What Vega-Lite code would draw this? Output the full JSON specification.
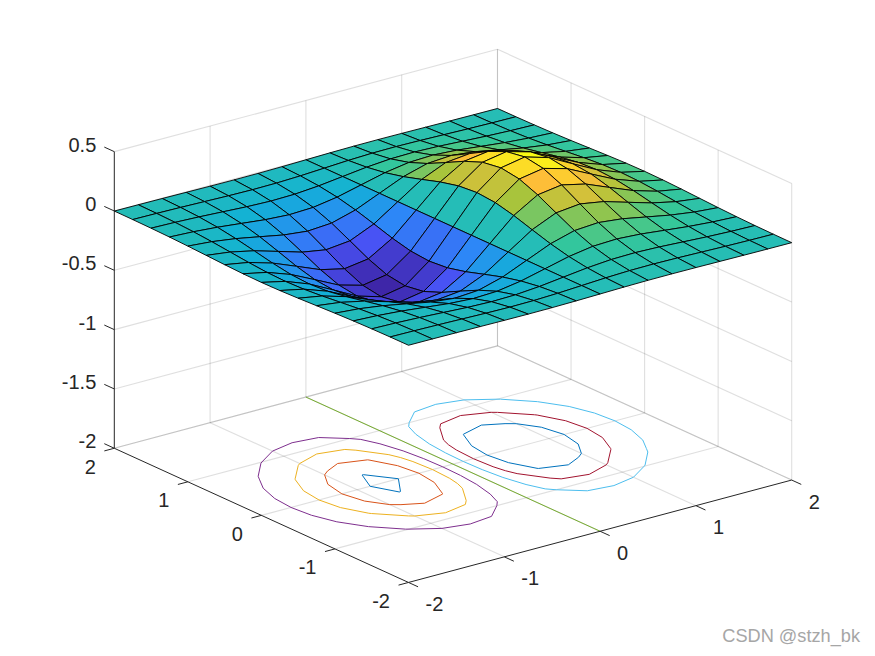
{"$schema":"https://vega.github.io/schema/vega-lite/v6.json","width":875,"height":656,"padding":0,"autosize":{"type":"none"},"background":"white","config":{"view":{"stroke":null}},
"title":{"text":"CSDN @stzh_bk","orient":"bottom","anchor":"end","frame":"group","dx":-15,"offset":-28,"font":"Liberation Sans","fontSize":18.2,"fontWeight":"normal","color":"#a6a6a6"},
"datasets":{
"lines":[
{"id":"f1","t":"g","k":0,"x":-1,"y":-2,"z":-2},{"id":"f1","t":"g","k":1,"x":-1,"y":2,"z":-2},
{"id":"f2","t":"g","k":0,"x":0,"y":-2,"z":-2},{"id":"f2","t":"g","k":1,"x":0,"y":2,"z":-2},
{"id":"f3","t":"g","k":0,"x":1,"y":-2,"z":-2},{"id":"f3","t":"g","k":1,"x":1,"y":2,"z":-2},
{"id":"f4","t":"g","k":0,"x":2,"y":-2,"z":-2},{"id":"f4","t":"g","k":1,"x":2,"y":2,"z":-2},
{"id":"f5","t":"g","k":0,"x":-2,"y":-1,"z":-2},{"id":"f5","t":"g","k":1,"x":2,"y":-1,"z":-2},
{"id":"f6","t":"g","k":0,"x":-2,"y":0,"z":-2},{"id":"f6","t":"g","k":1,"x":2,"y":0,"z":-2},
{"id":"f7","t":"g","k":0,"x":-2,"y":1,"z":-2},{"id":"f7","t":"g","k":1,"x":2,"y":1,"z":-2},
{"id":"f8","t":"g","k":0,"x":-2,"y":2,"z":-2},{"id":"f8","t":"g","k":1,"x":2,"y":2,"z":-2},
{"id":"a1","t":"g","k":0,"x":-1,"y":2,"z":-2},{"id":"a1","t":"g","k":1,"x":-1,"y":2,"z":0.5},
{"id":"a2","t":"g","k":0,"x":0,"y":2,"z":-2},{"id":"a2","t":"g","k":1,"x":0,"y":2,"z":0.5},
{"id":"a3","t":"g","k":0,"x":1,"y":2,"z":-2},{"id":"a3","t":"g","k":1,"x":1,"y":2,"z":0.5},
{"id":"a4","t":"g","k":0,"x":2,"y":2,"z":-2},{"id":"a4","t":"g","k":1,"x":2,"y":2,"z":0.5},
{"id":"b0","t":"g","k":0,"x":-2,"y":2,"z":-2},{"id":"b0","t":"g","k":1,"x":2,"y":2,"z":-2},
{"id":"b1","t":"g","k":0,"x":-2,"y":2,"z":-1.5},{"id":"b1","t":"g","k":1,"x":2,"y":2,"z":-1.5},
{"id":"b2","t":"g","k":0,"x":-2,"y":2,"z":-1},{"id":"b2","t":"g","k":1,"x":2,"y":2,"z":-1},
{"id":"b3","t":"g","k":0,"x":-2,"y":2,"z":-0.5},{"id":"b3","t":"g","k":1,"x":2,"y":2,"z":-0.5},
{"id":"b4","t":"g","k":0,"x":-2,"y":2,"z":0},{"id":"b4","t":"g","k":1,"x":2,"y":2,"z":0},
{"id":"b5","t":"g","k":0,"x":-2,"y":2,"z":0.5},{"id":"b5","t":"g","k":1,"x":2,"y":2,"z":0.5},
{"id":"c1","t":"g","k":0,"x":2,"y":-2,"z":-2},{"id":"c1","t":"g","k":1,"x":2,"y":-2,"z":0.5},
{"id":"c2","t":"g","k":0,"x":2,"y":-1,"z":-2},{"id":"c2","t":"g","k":1,"x":2,"y":-1,"z":0.5},
{"id":"c3","t":"g","k":0,"x":2,"y":0,"z":-2},{"id":"c3","t":"g","k":1,"x":2,"y":0,"z":0.5},
{"id":"c4","t":"g","k":0,"x":2,"y":1,"z":-2},{"id":"c4","t":"g","k":1,"x":2,"y":1,"z":0.5},
{"id":"c5","t":"g","k":0,"x":2,"y":2,"z":-2},{"id":"c5","t":"g","k":1,"x":2,"y":2,"z":0.5},
{"id":"d0","t":"g","k":0,"x":2,"y":-2,"z":-2},{"id":"d0","t":"g","k":1,"x":2,"y":2,"z":-2},
{"id":"d1","t":"g","k":0,"x":2,"y":-2,"z":-1.5},{"id":"d1","t":"g","k":1,"x":2,"y":2,"z":-1.5},
{"id":"d2","t":"g","k":0,"x":2,"y":-2,"z":-1},{"id":"d2","t":"g","k":1,"x":2,"y":2,"z":-1},
{"id":"d3","t":"g","k":0,"x":2,"y":-2,"z":-0.5},{"id":"d3","t":"g","k":1,"x":2,"y":2,"z":-0.5},
{"id":"d4","t":"g","k":0,"x":2,"y":-2,"z":0},{"id":"d4","t":"g","k":1,"x":2,"y":2,"z":0},
{"id":"d5","t":"g","k":0,"x":2,"y":-2,"z":0.5},{"id":"d5","t":"g","k":1,"x":2,"y":2,"z":0.5},
{"id":"ax","t":"a","k":0,"x":-2,"y":-2,"z":-2},{"id":"ax","t":"a","k":1,"x":2,"y":-2,"z":-2},
{"id":"ay","t":"a","k":0,"x":-2,"y":-2,"z":-2},{"id":"ay","t":"a","k":1,"x":-2,"y":2,"z":-2},
{"id":"az","t":"a","k":0,"x":-2,"y":2,"z":-2},{"id":"az","t":"a","k":1,"x":-2,"y":2,"z":0.5},
{"id":"t1","t":"a","k":0,"x":-2,"y":2,"z":-2},{"id":"t1","t":"a","k":1,"x":-2,"y":2.136,"z":-2},
{"id":"t2","t":"a","k":0,"x":-2,"y":2,"z":-1.5},{"id":"t2","t":"a","k":1,"x":-2,"y":2.136,"z":-1.5},
{"id":"t3","t":"a","k":0,"x":-2,"y":2,"z":-1},{"id":"t3","t":"a","k":1,"x":-2,"y":2.136,"z":-1},
{"id":"t4","t":"a","k":0,"x":-2,"y":2,"z":-0.5},{"id":"t4","t":"a","k":1,"x":-2,"y":2.136,"z":-0.5},
{"id":"t5","t":"a","k":0,"x":-2,"y":2,"z":0},{"id":"t5","t":"a","k":1,"x":-2,"y":2.136,"z":0},
{"id":"t6","t":"a","k":0,"x":-2,"y":2,"z":0.5},{"id":"t6","t":"a","k":1,"x":-2,"y":2.136,"z":0.5},
{"id":"u1","t":"a","k":0,"x":-2,"y":2,"z":-2},{"id":"u1","t":"a","k":1,"x":-2.104,"y":2,"z":-2},
{"id":"u2","t":"a","k":0,"x":-2,"y":1,"z":-2},{"id":"u2","t":"a","k":1,"x":-2.104,"y":1,"z":-2},
{"id":"u3","t":"a","k":0,"x":-2,"y":0,"z":-2},{"id":"u3","t":"a","k":1,"x":-2.104,"y":0,"z":-2},
{"id":"u4","t":"a","k":0,"x":-2,"y":-1,"z":-2},{"id":"u4","t":"a","k":1,"x":-2.104,"y":-1,"z":-2},
{"id":"u5","t":"a","k":0,"x":-2,"y":-2,"z":-2},{"id":"u5","t":"a","k":1,"x":-2.104,"y":-2,"z":-2},
{"id":"v1","t":"a","k":0,"x":-2,"y":-2,"z":-2},{"id":"v1","t":"a","k":1,"x":-2,"y":-2.13,"z":-2},
{"id":"v2","t":"a","k":0,"x":-1,"y":-2,"z":-2},{"id":"v2","t":"a","k":1,"x":-1,"y":-2.13,"z":-2},
{"id":"v3","t":"a","k":0,"x":0,"y":-2,"z":-2},{"id":"v3","t":"a","k":1,"x":0,"y":-2.13,"z":-2},
{"id":"v4","t":"a","k":0,"x":1,"y":-2,"z":-2},{"id":"v4","t":"a","k":1,"x":1,"y":-2.13,"z":-2},
{"id":"v5","t":"a","k":0,"x":2,"y":-2,"z":-2},{"id":"v5","t":"a","k":1,"x":2,"y":-2.13,"z":-2}
],
"labels":[
{"a":"z","s":"0.5","x":-2,"y":2,"z":0.5},{"a":"z","s":"0","x":-2,"y":2,"z":0},{"a":"z","s":"-0.5","x":-2,"y":2,"z":-0.5},{"a":"z","s":"-1","x":-2,"y":2,"z":-1},{"a":"z","s":"-1.5","x":-2,"y":2,"z":-1.5},{"a":"z","s":"-2","x":-2,"y":2,"z":-2},
{"a":"y","s":"2","x":-2,"y":2,"z":-2},{"a":"y","s":"1","x":-2,"y":1,"z":-2},{"a":"y","s":"0","x":-2,"y":0,"z":-2},{"a":"y","s":"-1","x":-2,"y":-1,"z":-2},{"a":"y","s":"-2","x":-2,"y":-2,"z":-2},
{"a":"x","s":"-2","x":-2,"y":-2,"z":-2},{"a":"x","s":"-1","x":-1,"y":-2,"z":-2},{"a":"x","s":"0","x":0,"y":-2,"z":-2},{"a":"x","s":"1","x":1,"y":-2,"z":-2},{"a":"x","s":"2","x":2,"y":-2,"z":-2}
],
"contours":[
{"c":"z0","l":0,"i":0,"x":0,"y":2},{"c":"z0","l":0,"i":1,"x":0,"y":-2},
{"c":"p1","l":0.1,"i":0,"x":0.1065,"y":0},{"c":"p1","l":0.1,"i":1,"x":0.1134,"y":0.25},{"c":"p1","l":0.1,"i":2,"x":0.1367,"y":0.5},{"c":"p1","l":0.1,"i":3,"x":0.1869,"y":0.75},{"c":"p1","l":0.1,"i":4,"x":0.25,"y":0.928},{"c":"p1","l":0.1,"i":5,"x":0.31,"y":1},{"c":"p1","l":0.1,"i":6,"x":0.5,"y":1.175},{"c":"p1","l":0.1,"i":7,"x":0.75,"y":1.211},{"c":"p1","l":0.1,"i":8,"x":1,"y":1.152},{"c":"p1","l":0.1,"i":9,"x":1.227,"y":1},{"c":"p1","l":0.1,"i":10,"x":1.25,"y":0.983},{"c":"p1","l":0.1,"i":11,"x":1.458,"y":0.75},{"c":"p1","l":0.1,"i":12,"x":1.5,"y":0.675},{"c":"p1","l":0.1,"i":13,"x":1.597,"y":0.5},{"c":"p1","l":0.1,"i":14,"x":1.669,"y":0.25},{"c":"p1","l":0.1,"i":15,"x":1.691,"y":0},{"c":"p1","l":0.1,"i":16,"x":1.669,"y":-0.25},{"c":"p1","l":0.1,"i":17,"x":1.597,"y":-0.5},{"c":"p1","l":0.1,"i":18,"x":1.5,"y":-0.675},{"c":"p1","l":0.1,"i":19,"x":1.458,"y":-0.75},{"c":"p1","l":0.1,"i":20,"x":1.25,"y":-0.983},{"c":"p1","l":0.1,"i":21,"x":1.227,"y":-1},{"c":"p1","l":0.1,"i":22,"x":1,"y":-1.152},{"c":"p1","l":0.1,"i":23,"x":0.75,"y":-1.211},{"c":"p1","l":0.1,"i":24,"x":0.5,"y":-1.175},{"c":"p1","l":0.1,"i":25,"x":0.31,"y":-1},{"c":"p1","l":0.1,"i":26,"x":0.25,"y":-0.928},{"c":"p1","l":0.1,"i":27,"x":0.1869,"y":-0.75},{"c":"p1","l":0.1,"i":28,"x":0.1367,"y":-0.5},{"c":"p1","l":0.1,"i":29,"x":0.1134,"y":-0.25},{"c":"p1","l":0.1,"i":30,"x":0.1065,"y":0},
{"c":"n1","l":-0.1,"i":0,"x":-0.1065,"y":0},{"c":"n1","l":-0.1,"i":1,"x":-0.1134,"y":0.25},{"c":"n1","l":-0.1,"i":2,"x":-0.1367,"y":0.5},{"c":"n1","l":-0.1,"i":3,"x":-0.1869,"y":0.75},{"c":"n1","l":-0.1,"i":4,"x":-0.25,"y":0.928},{"c":"n1","l":-0.1,"i":5,"x":-0.31,"y":1},{"c":"n1","l":-0.1,"i":6,"x":-0.5,"y":1.175},{"c":"n1","l":-0.1,"i":7,"x":-0.75,"y":1.211},{"c":"n1","l":-0.1,"i":8,"x":-1,"y":1.152},{"c":"n1","l":-0.1,"i":9,"x":-1.227,"y":1},{"c":"n1","l":-0.1,"i":10,"x":-1.25,"y":0.983},{"c":"n1","l":-0.1,"i":11,"x":-1.458,"y":0.75},{"c":"n1","l":-0.1,"i":12,"x":-1.5,"y":0.675},{"c":"n1","l":-0.1,"i":13,"x":-1.597,"y":0.5},{"c":"n1","l":-0.1,"i":14,"x":-1.669,"y":0.25},{"c":"n1","l":-0.1,"i":15,"x":-1.691,"y":0},{"c":"n1","l":-0.1,"i":16,"x":-1.669,"y":-0.25},{"c":"n1","l":-0.1,"i":17,"x":-1.597,"y":-0.5},{"c":"n1","l":-0.1,"i":18,"x":-1.5,"y":-0.675},{"c":"n1","l":-0.1,"i":19,"x":-1.458,"y":-0.75},{"c":"n1","l":-0.1,"i":20,"x":-1.25,"y":-0.983},{"c":"n1","l":-0.1,"i":21,"x":-1.227,"y":-1},{"c":"n1","l":-0.1,"i":22,"x":-1,"y":-1.152},{"c":"n1","l":-0.1,"i":23,"x":-0.75,"y":-1.211},{"c":"n1","l":-0.1,"i":24,"x":-0.5,"y":-1.175},{"c":"n1","l":-0.1,"i":25,"x":-0.31,"y":-1},{"c":"n1","l":-0.1,"i":26,"x":-0.25,"y":-0.928},{"c":"n1","l":-0.1,"i":27,"x":-0.1869,"y":-0.75},{"c":"n1","l":-0.1,"i":28,"x":-0.1367,"y":-0.5},{"c":"n1","l":-0.1,"i":29,"x":-0.1134,"y":-0.25},{"c":"n1","l":-0.1,"i":30,"x":-0.1065,"y":0},
{"c":"p2","l":0.2,"i":0,"x":0.213,"y":0},{"c":"p2","l":0.2,"i":1,"x":0.2267,"y":0.25},{"c":"p2","l":0.2,"i":2,"x":0.25,"y":0.386},{"c":"p2","l":0.2,"i":3,"x":0.2856,"y":0.5},{"c":"p2","l":0.2,"i":4,"x":0.438,"y":0.75},{"c":"p2","l":0.2,"i":5,"x":0.5,"y":0.8196},{"c":"p2","l":0.2,"i":6,"x":0.75,"y":0.876},{"c":"p2","l":0.2,"i":7,"x":1,"y":0.782},{"c":"p2","l":0.2,"i":8,"x":1.04,"y":0.75},{"c":"p2","l":0.2,"i":9,"x":1.25,"y":0.518},{"c":"p2","l":0.2,"i":10,"x":1.2625,"y":0.5},{"c":"p2","l":0.2,"i":11,"x":1.368,"y":0.25},{"c":"p2","l":0.2,"i":12,"x":1.399,"y":0},{"c":"p2","l":0.2,"i":13,"x":1.368,"y":-0.25},{"c":"p2","l":0.2,"i":14,"x":1.2625,"y":-0.5},{"c":"p2","l":0.2,"i":15,"x":1.25,"y":-0.518},{"c":"p2","l":0.2,"i":16,"x":1.04,"y":-0.75},{"c":"p2","l":0.2,"i":17,"x":1,"y":-0.782},{"c":"p2","l":0.2,"i":18,"x":0.75,"y":-0.876},{"c":"p2","l":0.2,"i":19,"x":0.5,"y":-0.8196},{"c":"p2","l":0.2,"i":20,"x":0.438,"y":-0.75},{"c":"p2","l":0.2,"i":21,"x":0.2856,"y":-0.5},{"c":"p2","l":0.2,"i":22,"x":0.25,"y":-0.386},{"c":"p2","l":0.2,"i":23,"x":0.2267,"y":-0.25},{"c":"p2","l":0.2,"i":24,"x":0.213,"y":0},
{"c":"n2","l":-0.2,"i":0,"x":-0.213,"y":0},{"c":"n2","l":-0.2,"i":1,"x":-0.2267,"y":0.25},{"c":"n2","l":-0.2,"i":2,"x":-0.25,"y":0.386},{"c":"n2","l":-0.2,"i":3,"x":-0.2856,"y":0.5},{"c":"n2","l":-0.2,"i":4,"x":-0.438,"y":0.75},{"c":"n2","l":-0.2,"i":5,"x":-0.5,"y":0.8196},{"c":"n2","l":-0.2,"i":6,"x":-0.75,"y":0.876},{"c":"n2","l":-0.2,"i":7,"x":-1,"y":0.782},{"c":"n2","l":-0.2,"i":8,"x":-1.04,"y":0.75},{"c":"n2","l":-0.2,"i":9,"x":-1.25,"y":0.518},{"c":"n2","l":-0.2,"i":10,"x":-1.2625,"y":0.5},{"c":"n2","l":-0.2,"i":11,"x":-1.368,"y":0.25},{"c":"n2","l":-0.2,"i":12,"x":-1.399,"y":0},{"c":"n2","l":-0.2,"i":13,"x":-1.368,"y":-0.25},{"c":"n2","l":-0.2,"i":14,"x":-1.2625,"y":-0.5},{"c":"n2","l":-0.2,"i":15,"x":-1.25,"y":-0.518},{"c":"n2","l":-0.2,"i":16,"x":-1.04,"y":-0.75},{"c":"n2","l":-0.2,"i":17,"x":-1,"y":-0.782},{"c":"n2","l":-0.2,"i":18,"x":-0.75,"y":-0.876},{"c":"n2","l":-0.2,"i":19,"x":-0.5,"y":-0.8196},{"c":"n2","l":-0.2,"i":20,"x":-0.438,"y":-0.75},{"c":"n2","l":-0.2,"i":21,"x":-0.2856,"y":-0.5},{"c":"n2","l":-0.2,"i":22,"x":-0.25,"y":-0.386},{"c":"n2","l":-0.2,"i":23,"x":-0.2267,"y":-0.25},{"c":"n2","l":-0.2,"i":24,"x":-0.213,"y":0},
{"c":"p3","l":0.3,"i":0,"x":0.3554,"y":0},{"c":"p3","l":0.3,"i":1,"x":0.3868,"y":0.25},{"c":"p3","l":0.3,"i":2,"x":0.4932,"y":0.5},{"c":"p3","l":0.3,"i":3,"x":0.5,"y":0.51},{"c":"p3","l":0.3,"i":4,"x":0.75,"y":0.5917},{"c":"p3","l":0.3,"i":5,"x":0.927,"y":0.5},{"c":"p3","l":0.3,"i":6,"x":1,"y":0.443},{"c":"p3","l":0.3,"i":7,"x":1.1145,"y":0.25},{"c":"p3","l":0.3,"i":8,"x":1.16,"y":0},{"c":"p3","l":0.3,"i":9,"x":1.1145,"y":-0.25},{"c":"p3","l":0.3,"i":10,"x":1,"y":-0.443},{"c":"p3","l":0.3,"i":11,"x":0.927,"y":-0.5},{"c":"p3","l":0.3,"i":12,"x":0.75,"y":-0.5917},{"c":"p3","l":0.3,"i":13,"x":0.5,"y":-0.51},{"c":"p3","l":0.3,"i":14,"x":0.4932,"y":-0.5},{"c":"p3","l":0.3,"i":15,"x":0.3868,"y":-0.25},{"c":"p3","l":0.3,"i":16,"x":0.3554,"y":0},
{"c":"n3","l":-0.3,"i":0,"x":-0.3554,"y":0},{"c":"n3","l":-0.3,"i":1,"x":-0.3868,"y":0.25},{"c":"n3","l":-0.3,"i":2,"x":-0.4932,"y":0.5},{"c":"n3","l":-0.3,"i":3,"x":-0.5,"y":0.51},{"c":"n3","l":-0.3,"i":4,"x":-0.75,"y":0.5917},{"c":"n3","l":-0.3,"i":5,"x":-0.927,"y":0.5},{"c":"n3","l":-0.3,"i":6,"x":-1,"y":0.443},{"c":"n3","l":-0.3,"i":7,"x":-1.1145,"y":0.25},{"c":"n3","l":-0.3,"i":8,"x":-1.16,"y":0},{"c":"n3","l":-0.3,"i":9,"x":-1.1145,"y":-0.25},{"c":"n3","l":-0.3,"i":10,"x":-1,"y":-0.443},{"c":"n3","l":-0.3,"i":11,"x":-0.927,"y":-0.5},{"c":"n3","l":-0.3,"i":12,"x":-0.75,"y":-0.5917},{"c":"n3","l":-0.3,"i":13,"x":-0.5,"y":-0.51},{"c":"n3","l":-0.3,"i":14,"x":-0.4932,"y":-0.5},{"c":"n3","l":-0.3,"i":15,"x":-0.3868,"y":-0.25},{"c":"n3","l":-0.3,"i":16,"x":-0.3554,"y":0},
{"c":"n4","l":-0.4,"i":0,"x":-0.57,"y":0},{"c":"n4","l":-0.4,"i":1,"x":-0.74,"y":0.25},{"c":"n4","l":-0.4,"i":2,"x":-0.75,"y":0.255},{"c":"n4","l":-0.4,"i":3,"x":-0.756,"y":0.25},{"c":"n4","l":-0.4,"i":4,"x":-0.865,"y":0},{"c":"n4","l":-0.4,"i":5,"x":-0.756,"y":-0.25},{"c":"n4","l":-0.4,"i":6,"x":-0.75,"y":-0.255},{"c":"n4","l":-0.4,"i":7,"x":-0.74,"y":-0.25},{"c":"n4","l":-0.4,"i":8,"x":-0.57,"y":0}
],
"grid":[
{"x":2,"y":2,"z":0.0007},{"x":1.75,"y":2,"z":0.0015},{"x":1.5,"y":2,"z":0.0029},{"x":1.25,"y":2,"z":0.0048},{"x":1,"y":2,"z":0.0067},{"x":0.75,"y":2,"z":0.0078},{"x":0.5,"y":2,"z":0.0071},{"x":0.25,"y":2,"z":0.0043},{"x":0,"y":2,"z":0},{"x":-0.25,"y":2,"z":-0.0043},{"x":-0.5,"y":2,"z":-0.0071},{"x":-0.75,"y":2,"z":-0.0078},{"x":-1,"y":2,"z":-0.0067},{"x":-1.25,"y":2,"z":-0.0048},{"x":-1.5,"y":2,"z":-0.0029},{"x":-1.75,"y":2,"z":-0.0015},{"x":-2,"y":2,"z":-0.0007},
{"x":2,"y":1.75,"z":0.0017},{"x":1.75,"y":1.75,"z":0.0038},{"x":1.5,"y":1.75,"z":0.0074},{"x":1.25,"y":1.75,"z":0.0123},{"x":1,"y":1.75,"z":0.0172},{"x":0.75,"y":1.75,"z":0.02},{"x":0.5,"y":1.75,"z":0.0182},{"x":0.25,"y":1.75,"z":0.011},{"x":0,"y":1.75,"z":0},{"x":-0.25,"y":1.75,"z":-0.011},{"x":-0.5,"y":1.75,"z":-0.0182},{"x":-0.75,"y":1.75,"z":-0.02},{"x":-1,"y":1.75,"z":-0.0172},{"x":-1.25,"y":1.75,"z":-0.0123},{"x":-1.5,"y":1.75,"z":-0.0074},{"x":-1.75,"y":1.75,"z":-0.0038},{"x":-2,"y":1.75,"z":-0.0017},
{"x":2,"y":1.5,"z":0.0039},{"x":1.75,"y":1.5,"z":0.0086},{"x":1.5,"y":1.5,"z":0.0167},{"x":1.25,"y":1.5,"z":0.0276},{"x":1,"y":1.5,"z":0.0388},{"x":0.75,"y":1.5,"z":0.045},{"x":0.5,"y":1.5,"z":0.041},{"x":0.25,"y":1.5,"z":0.0247},{"x":0,"y":1.5,"z":0},{"x":-0.25,"y":1.5,"z":-0.0247},{"x":-0.5,"y":1.5,"z":-0.041},{"x":-0.75,"y":1.5,"z":-0.045},{"x":-1,"y":1.5,"z":-0.0388},{"x":-1.25,"y":1.5,"z":-0.0276},{"x":-1.5,"y":1.5,"z":-0.0167},{"x":-1.75,"y":1.5,"z":-0.0086},{"x":-2,"y":1.5,"z":-0.0039},
{"x":2,"y":1.25,"z":0.0077},{"x":1.75,"y":1.25,"z":0.0172},{"x":1.5,"y":1.25,"z":0.0331},{"x":1.25,"y":1.25,"z":0.0549},{"x":1,"y":1.25,"z":0.0771},{"x":0.75,"y":1.25,"z":0.0896},{"x":0.5,"y":1.25,"z":0.0816},{"x":0.25,"y":1.25,"z":0.0492},{"x":0,"y":1.25,"z":0},{"x":-0.25,"y":1.25,"z":-0.0492},{"x":-0.5,"y":1.25,"z":-0.0816},{"x":-0.75,"y":1.25,"z":-0.0896},{"x":-1,"y":1.25,"z":-0.0771},{"x":-1.25,"y":1.25,"z":-0.0549},{"x":-1.5,"y":1.25,"z":-0.0331},{"x":-1.75,"y":1.25,"z":-0.0172},{"x":-2,"y":1.25,"z":-0.0077},
{"x":2,"y":1,"z":0.0135},{"x":1.75,"y":1,"z":0.0301},{"x":1.5,"y":1,"z":0.0582},{"x":1.25,"y":1,"z":0.0964},{"x":1,"y":1,"z":0.1353},{"x":0.75,"y":1,"z":0.1572},{"x":0.5,"y":1,"z":0.1433},{"x":0.25,"y":1,"z":0.0864},{"x":0,"y":1,"z":0},{"x":-0.25,"y":1,"z":-0.0864},{"x":-0.5,"y":1,"z":-0.1433},{"x":-0.75,"y":1,"z":-0.1572},{"x":-1,"y":1,"z":-0.1353},{"x":-1.25,"y":1,"z":-0.0964},{"x":-1.5,"y":1,"z":-0.0582},{"x":-1.75,"y":1,"z":-0.0301},{"x":-2,"y":1,"z":-0.0135},
{"x":2,"y":0.75,"z":0.0209},{"x":1.75,"y":0.75,"z":0.0467},{"x":1.5,"y":0.75,"z":0.0901},{"x":1.25,"y":0.75,"z":0.1493},{"x":1,"y":0.75,"z":0.2096},{"x":0.75,"y":0.75,"z":0.2435},{"x":0.5,"y":0.75,"z":0.2219},{"x":0.25,"y":0.75,"z":0.1338},{"x":0,"y":0.75,"z":0},{"x":-0.25,"y":0.75,"z":-0.1338},{"x":-0.5,"y":0.75,"z":-0.2219},{"x":-0.75,"y":0.75,"z":-0.2435},{"x":-1,"y":0.75,"z":-0.2096},{"x":-1.25,"y":0.75,"z":-0.1493},{"x":-1.5,"y":0.75,"z":-0.0901},{"x":-1.75,"y":0.75,"z":-0.0467},{"x":-2,"y":0.75,"z":-0.0209},
{"x":2,"y":0.5,"z":0.0285},{"x":1.75,"y":0.5,"z":0.0638},{"x":1.5,"y":0.5,"z":0.1231},{"x":1.25,"y":0.5,"z":0.204},{"x":1,"y":0.5,"z":0.2865},{"x":0.75,"y":0.5,"z":0.3328},{"x":0.5,"y":0.5,"z":0.3033},{"x":0.25,"y":0.5,"z":0.1829},{"x":0,"y":0.5,"z":0},{"x":-0.25,"y":0.5,"z":-0.1829},{"x":-0.5,"y":0.5,"z":-0.3033},{"x":-0.75,"y":0.5,"z":-0.3328},{"x":-1,"y":0.5,"z":-0.2865},{"x":-1.25,"y":0.5,"z":-0.204},{"x":-1.5,"y":0.5,"z":-0.1231},{"x":-1.75,"y":0.5,"z":-0.0638},{"x":-2,"y":0.5,"z":-0.0285},
{"x":2,"y":0.25,"z":0.0344},{"x":1.75,"y":0.25,"z":0.0769},{"x":1.5,"y":0.25,"z":0.1485},{"x":1.25,"y":0.25,"z":0.2461},{"x":1,"y":0.25,"z":0.3456},{"x":0.75,"y":0.25,"z":0.4014},{"x":0.5,"y":0.25,"z":0.3658},{"x":0.25,"y":0.25,"z":0.2206},{"x":0,"y":0.25,"z":0},{"x":-0.25,"y":0.25,"z":-0.2206},{"x":-0.5,"y":0.25,"z":-0.3658},{"x":-0.75,"y":0.25,"z":-0.4014},{"x":-1,"y":0.25,"z":-0.3456},{"x":-1.25,"y":0.25,"z":-0.2461},{"x":-1.5,"y":0.25,"z":-0.1485},{"x":-1.75,"y":0.25,"z":-0.0769},{"x":-2,"y":0.25,"z":-0.0344},
{"x":2,"y":0,"z":0.0366},{"x":1.75,"y":0,"z":0.0819},{"x":1.5,"y":0,"z":0.1581},{"x":1.25,"y":0,"z":0.262},{"x":1,"y":0,"z":0.3679},{"x":0.75,"y":0,"z":0.4273},{"x":0.5,"y":0,"z":0.3894},{"x":0.25,"y":0,"z":0.2348},{"x":0,"y":0,"z":0},{"x":-0.25,"y":0,"z":-0.2348},{"x":-0.5,"y":0,"z":-0.3894},{"x":-0.75,"y":0,"z":-0.4273},{"x":-1,"y":0,"z":-0.3679},{"x":-1.25,"y":0,"z":-0.262},{"x":-1.5,"y":0,"z":-0.1581},{"x":-1.75,"y":0,"z":-0.0819},{"x":-2,"y":0,"z":-0.0366},
{"x":2,"y":-0.25,"z":0.0344},{"x":1.75,"y":-0.25,"z":0.0769},{"x":1.5,"y":-0.25,"z":0.1485},{"x":1.25,"y":-0.25,"z":0.2461},{"x":1,"y":-0.25,"z":0.3456},{"x":0.75,"y":-0.25,"z":0.4014},{"x":0.5,"y":-0.25,"z":0.3658},{"x":0.25,"y":-0.25,"z":0.2206},{"x":0,"y":-0.25,"z":0},{"x":-0.25,"y":-0.25,"z":-0.2206},{"x":-0.5,"y":-0.25,"z":-0.3658},{"x":-0.75,"y":-0.25,"z":-0.4014},{"x":-1,"y":-0.25,"z":-0.3456},{"x":-1.25,"y":-0.25,"z":-0.2461},{"x":-1.5,"y":-0.25,"z":-0.1485},{"x":-1.75,"y":-0.25,"z":-0.0769},{"x":-2,"y":-0.25,"z":-0.0344},
{"x":2,"y":-0.5,"z":0.0285},{"x":1.75,"y":-0.5,"z":0.0638},{"x":1.5,"y":-0.5,"z":0.1231},{"x":1.25,"y":-0.5,"z":0.204},{"x":1,"y":-0.5,"z":0.2865},{"x":0.75,"y":-0.5,"z":0.3328},{"x":0.5,"y":-0.5,"z":0.3033},{"x":0.25,"y":-0.5,"z":0.1829},{"x":0,"y":-0.5,"z":0},{"x":-0.25,"y":-0.5,"z":-0.1829},{"x":-0.5,"y":-0.5,"z":-0.3033},{"x":-0.75,"y":-0.5,"z":-0.3328},{"x":-1,"y":-0.5,"z":-0.2865},{"x":-1.25,"y":-0.5,"z":-0.204},{"x":-1.5,"y":-0.5,"z":-0.1231},{"x":-1.75,"y":-0.5,"z":-0.0638},{"x":-2,"y":-0.5,"z":-0.0285},
{"x":2,"y":-0.75,"z":0.0209},{"x":1.75,"y":-0.75,"z":0.0467},{"x":1.5,"y":-0.75,"z":0.0901},{"x":1.25,"y":-0.75,"z":0.1493},{"x":1,"y":-0.75,"z":0.2096},{"x":0.75,"y":-0.75,"z":0.2435},{"x":0.5,"y":-0.75,"z":0.2219},{"x":0.25,"y":-0.75,"z":0.1338},{"x":0,"y":-0.75,"z":0},{"x":-0.25,"y":-0.75,"z":-0.1338},{"x":-0.5,"y":-0.75,"z":-0.2219},{"x":-0.75,"y":-0.75,"z":-0.2435},{"x":-1,"y":-0.75,"z":-0.2096},{"x":-1.25,"y":-0.75,"z":-0.1493},{"x":-1.5,"y":-0.75,"z":-0.0901},{"x":-1.75,"y":-0.75,"z":-0.0467},{"x":-2,"y":-0.75,"z":-0.0209},
{"x":2,"y":-1,"z":0.0135},{"x":1.75,"y":-1,"z":0.0301},{"x":1.5,"y":-1,"z":0.0582},{"x":1.25,"y":-1,"z":0.0964},{"x":1,"y":-1,"z":0.1353},{"x":0.75,"y":-1,"z":0.1572},{"x":0.5,"y":-1,"z":0.1433},{"x":0.25,"y":-1,"z":0.0864},{"x":0,"y":-1,"z":0},{"x":-0.25,"y":-1,"z":-0.0864},{"x":-0.5,"y":-1,"z":-0.1433},{"x":-0.75,"y":-1,"z":-0.1572},{"x":-1,"y":-1,"z":-0.1353},{"x":-1.25,"y":-1,"z":-0.0964},{"x":-1.5,"y":-1,"z":-0.0582},{"x":-1.75,"y":-1,"z":-0.0301},{"x":-2,"y":-1,"z":-0.0135},
{"x":2,"y":-1.25,"z":0.0077},{"x":1.75,"y":-1.25,"z":0.0172},{"x":1.5,"y":-1.25,"z":0.0331},{"x":1.25,"y":-1.25,"z":0.0549},{"x":1,"y":-1.25,"z":0.0771},{"x":0.75,"y":-1.25,"z":0.0896},{"x":0.5,"y":-1.25,"z":0.0816},{"x":0.25,"y":-1.25,"z":0.0492},{"x":0,"y":-1.25,"z":0},{"x":-0.25,"y":-1.25,"z":-0.0492},{"x":-0.5,"y":-1.25,"z":-0.0816},{"x":-0.75,"y":-1.25,"z":-0.0896},{"x":-1,"y":-1.25,"z":-0.0771},{"x":-1.25,"y":-1.25,"z":-0.0549},{"x":-1.5,"y":-1.25,"z":-0.0331},{"x":-1.75,"y":-1.25,"z":-0.0172},{"x":-2,"y":-1.25,"z":-0.0077},
{"x":2,"y":-1.5,"z":0.0039},{"x":1.75,"y":-1.5,"z":0.0086},{"x":1.5,"y":-1.5,"z":0.0167},{"x":1.25,"y":-1.5,"z":0.0276},{"x":1,"y":-1.5,"z":0.0388},{"x":0.75,"y":-1.5,"z":0.045},{"x":0.5,"y":-1.5,"z":0.041},{"x":0.25,"y":-1.5,"z":0.0247},{"x":0,"y":-1.5,"z":0},{"x":-0.25,"y":-1.5,"z":-0.0247},{"x":-0.5,"y":-1.5,"z":-0.041},{"x":-0.75,"y":-1.5,"z":-0.045},{"x":-1,"y":-1.5,"z":-0.0388},{"x":-1.25,"y":-1.5,"z":-0.0276},{"x":-1.5,"y":-1.5,"z":-0.0167},{"x":-1.75,"y":-1.5,"z":-0.0086},{"x":-2,"y":-1.5,"z":-0.0039},
{"x":2,"y":-1.75,"z":0.0017},{"x":1.75,"y":-1.75,"z":0.0038},{"x":1.5,"y":-1.75,"z":0.0074},{"x":1.25,"y":-1.75,"z":0.0123},{"x":1,"y":-1.75,"z":0.0172},{"x":0.75,"y":-1.75,"z":0.02},{"x":0.5,"y":-1.75,"z":0.0182},{"x":0.25,"y":-1.75,"z":0.011},{"x":0,"y":-1.75,"z":0},{"x":-0.25,"y":-1.75,"z":-0.011},{"x":-0.5,"y":-1.75,"z":-0.0182},{"x":-0.75,"y":-1.75,"z":-0.02},{"x":-1,"y":-1.75,"z":-0.0172},{"x":-1.25,"y":-1.75,"z":-0.0123},{"x":-1.5,"y":-1.75,"z":-0.0074},{"x":-1.75,"y":-1.75,"z":-0.0038},{"x":-2,"y":-1.75,"z":-0.0017},
{"x":2,"y":-2,"z":0.0007},{"x":1.75,"y":-2,"z":0.0015},{"x":1.5,"y":-2,"z":0.0029},{"x":1.25,"y":-2,"z":0.0048},{"x":1,"y":-2,"z":0.0067},{"x":0.75,"y":-2,"z":0.0078},{"x":0.5,"y":-2,"z":0.0071},{"x":0.25,"y":-2,"z":0.0043},{"x":0,"y":-2,"z":0},{"x":-0.25,"y":-2,"z":-0.0043},{"x":-0.5,"y":-2,"z":-0.0071},{"x":-0.75,"y":-2,"z":-0.0078},{"x":-1,"y":-2,"z":-0.0067},{"x":-1.25,"y":-2,"z":-0.0048},{"x":-1.5,"y":-2,"z":-0.0029},{"x":-1.75,"y":-2,"z":-0.0015},{"x":-2,"y":-2,"z":-0.0007}
]},
"layer":[
{"data":{"name":"lines"},"transform":[{"filter":"datum.t=='g'"},{"calculate":"453+95.8*datum.x-73.55*datum.y","as":"sx"},{"calculate":"464.15-25.6*datum.x-33.55*datum.y-118.64*(datum.z+2)","as":"sy"}],
"mark":{"type":"line","stroke":"#262626","strokeOpacity":0.15,"strokeWidth":1.1,"clip":false},
"encoding":{"x":{"field":"sx","type":"quantitative","scale":{"domain":[0,875]},"axis":null},"y":{"field":"sy","type":"quantitative","scale":{"domain":[656,0]},"axis":null},"detail":{"field":"id"},"order":{"field":"k","type":"quantitative"}}},
{"data":{"name":"contours"},"transform":[{"calculate":"453+95.8*datum.x-73.55*datum.y","as":"sx"},{"calculate":"464.15-25.6*datum.x-33.55*datum.y","as":"sy"}],
"mark":{"type":"line","strokeWidth":1},
"encoding":{"x":{"field":"sx","type":"quantitative","scale":{"domain":[0,875]},"axis":null},"y":{"field":"sy","type":"quantitative","scale":{"domain":[656,0]},"axis":null},"detail":{"field":"c"},"order":{"field":"i","type":"quantitative"},"color":{"field":"l","type":"ordinal","legend":null,"scale":{"domain":[-0.4,-0.3,-0.2,-0.1,0,0.1,0.2,0.3],"range":["#0072BD","#D95319","#EDB120","#7E2F8E","#77AC30","#4DBEEE","#A2142F","#0072BD"]}}}},
{"data":{"name":"lines"},"transform":[{"filter":"datum.t=='a'"},{"calculate":"453+95.8*datum.x-73.55*datum.y","as":"sx"},{"calculate":"464.15-25.6*datum.x-33.55*datum.y-118.64*(datum.z+2)","as":"sy"}],
"mark":{"type":"line","stroke":"#262626","strokeWidth":1},
"encoding":{"x":{"field":"sx","type":"quantitative","scale":{"domain":[0,875]},"axis":null},"y":{"field":"sy","type":"quantitative","scale":{"domain":[656,0]},"axis":null},"detail":{"field":"id"},"order":{"field":"k","type":"quantitative"}}},
{"data":{"name":"grid"},"transform":[{"calculate":"[2,3,1,0,4]","as":"k"},{"flatten":["k"]},{"calculate":"datum.x-((datum.k==1||datum.k==2)?0.25:0)","as":"cx"},{"calculate":"datum.y-((datum.k==2||datum.k==3)?0.25:0)","as":"cy"},{"filter":"datum.cx>=-2&&datum.cx<2&&datum.cy>=-2&&datum.cy<2"},{"calculate":"datum.cx+'_'+datum.cy","as":"cell"},{"window":[{"op":"first_value","field":"z","as":"c"}],"groupby":["cell"],"sort":[{"field":"k","order":"ascending"}]},{"calculate":"453+95.8*datum.x-73.55*datum.y","as":"sx"},{"calculate":"464.15-25.6*datum.x-33.55*datum.y-118.64*(datum.z+2)","as":"sy"}],
"mark":{"type":"line","stroke":"#000000","strokeWidth":0.9,"strokeJoin":"round"},
"encoding":{"x":{"field":"sx","type":"quantitative","scale":{"domain":[0,875]},"axis":null},"y":{"field":"sy","type":"quantitative","scale":{"domain":[656,0]},"axis":null},"detail":{"field":"cell"},"order":{"field":"k","type":"quantitative"},"fill":{"field":"c","type":"quantitative","legend":null,"scale":{"domain":[-0.4273,-0.3052,-0.1831,-0.061,0.061,0.1831,0.3052,0.4273],"range":["#3E26A8","#4852F4","#2D87F7","#12B1D6","#37C897","#A8C43C","#FEBE38","#F9FB14"],"interpolate":"rgb"}}}},
{"data":{"name":"labels"},"transform":[{"filter":"datum.a=='z'"},{"calculate":"453+95.8*datum.x-73.55*datum.y","as":"sx"},{"calculate":"464.15-25.6*datum.x-33.55*datum.y-118.64*(datum.z+2)","as":"sy"}],
"mark":{"type":"text","align":"right","baseline":"middle","dx":-18,"dy":-6,"font":"Liberation Sans","fontSize":20,"color":"#262626"},
"encoding":{"x":{"field":"sx","type":"quantitative","scale":{"domain":[0,875]},"axis":null},"y":{"field":"sy","type":"quantitative","scale":{"domain":[656,0]},"axis":null},"text":{"field":"s"}}},
{"data":{"name":"labels"},"transform":[{"filter":"datum.a=='y'"},{"calculate":"453+95.8*datum.x-73.55*datum.y","as":"sx"},{"calculate":"464.15-25.6*datum.x-33.55*datum.y-118.64*(datum.z+2)","as":"sy"}],
"mark":{"type":"text","align":"right","baseline":"middle","dx":-18.5,"dy":19.5,"font":"Liberation Sans","fontSize":20,"color":"#262626"},
"encoding":{"x":{"field":"sx","type":"quantitative","scale":{"domain":[0,875]},"axis":null},"y":{"field":"sy","type":"quantitative","scale":{"domain":[656,0]},"axis":null},"text":{"field":"s"}}},
{"data":{"name":"labels"},"transform":[{"filter":"datum.a=='x'"},{"calculate":"453+95.8*datum.x-73.55*datum.y","as":"sx"},{"calculate":"464.15-25.6*datum.x-33.55*datum.y-118.64*(datum.z+2)","as":"sy"}],
"mark":{"type":"text","align":"left","baseline":"middle","dx":17,"dy":22.5,"font":"Liberation Sans","fontSize":20,"color":"#262626"},
"encoding":{"x":{"field":"sx","type":"quantitative","scale":{"domain":[0,875]},"axis":null},"y":{"field":"sy","type":"quantitative","scale":{"domain":[656,0]},"axis":null},"text":{"field":"s"}}}
]}
